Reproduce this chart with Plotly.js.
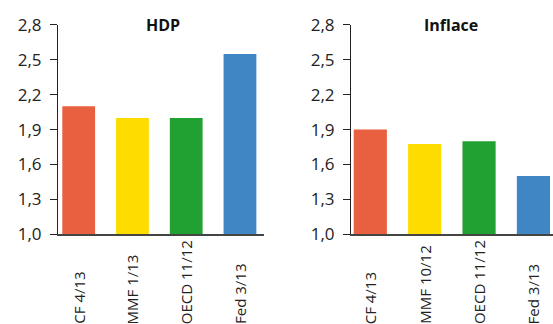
<!DOCTYPE html>
<html><head><meta charset="utf-8">
<script src="https://cdn.plot.ly/plotly-3.0.1.min.js"></script>
<style>html,body{margin:0;padding:0;background:#fff}#chart{width:553px;height:324px}</style>
</head><body><div id="chart"></div>
<script>
var hdpCategories = ["CF 4/13", "MMF 1/13", "OECD 11/12", "Fed 3/13"];
var hdpValues = [2.1, 2.0, 2.0, 2.55];
var inflCategories = ["CF 4/13", "MMF 10/12", "OECD 11/12", "Fed 3/13"];
var inflValues = [1.9, 1.775, 1.8, 1.5];
var barColors = ["#E8603F", "#FFDC00", "#21A131", "#3F86C4"];
var yTickVals = [1.0, 1.3, 1.6, 1.9, 2.2, 2.5, 2.8];
var titles = ["HDP", "Inflace"];

var font = "Open Sans, DejaVu Sans, sans-serif";
var traces = [
  {type: "bar", x: hdpCategories, y: hdpValues, xaxis: "x", yaxis: "y",
   marker: {color: barColors}, width: 0.61, hoverinfo: "none"},
  {type: "bar", x: inflCategories, y: inflValues, xaxis: "x2", yaxis: "y2",
   marker: {color: barColors}, width: 0.61, hoverinfo: "none"}
];
function yAxis(anchor) {
  return {domain: [1 - 234.3/324, 1 - 24.8/324], range: [1.0, 2.8], anchor: anchor,
    tickvals: yTickVals, tickformat: ".1f", showgrid: false, zeroline: false,
    showline: true, linecolor: "#222", linewidth: 1, ticks: "outside", ticklen: 7,
    tickcolor: "#222", ticklabelstandoff: 5,
    tickfont: {family: font, size: 17, color: "#222"}, automargin: false};
}
function xAxis(anchor, dom, rng) {
  return {domain: dom, range: rng, anchor: anchor, type: "category", showgrid: false,
    zeroline: false, showline: true, linecolor: "#444", linewidth: 1.5, ticks: "",
    showticklabels: false, automargin: false};
}
var annotations = [
  {text: "<b>" + titles[0] + "</b>", xref: "paper", yref: "paper", x: 163/553, y: 1 - 25/324,
   xanchor: "center", yanchor: "middle", showarrow: false, font: {family: font, size: 16, color: "#111"}},
  {text: "<b>" + titles[1] + "</b>", xref: "paper", yref: "paper", x: 451/553, y: 1 - 25/324,
   xanchor: "center", yanchor: "middle", showarrow: false, font: {family: font, size: 16, color: "#111"}}
];
function addLabels(cats, xref) {
  cats.forEach(function (c) {
    annotations.push({text: c, xref: xref, yref: "paper", x: c, y: -2/324,
      xanchor: "center", yanchor: "bottom", textangle: -90, showarrow: false,
      font: {family: font, size: 15, color: "#222"}});
  });
}
addLabels(hdpCategories, "x");
addLabels(inflCategories, "x2");
var layout = {
  width: 553, height: 324, margin: {l: 0, r: 0, t: 0, b: 0},
  paper_bgcolor: "#fff", plot_bgcolor: "#fff", showlegend: false,
  separators: ",.",
  xaxis: xAxis("y", [58/553, 264/553], [-0.385, 3.447]),
  yaxis: yAxis("x"),
  xaxis2: xAxis("y2", [351/553, 1], [-0.355, 3.36]),
  yaxis2: yAxis("x2"),
  annotations: annotations
};
Plotly.newPlot("chart", traces, layout, {staticPlot: true, displayModeBar: false});
</script></body></html>
